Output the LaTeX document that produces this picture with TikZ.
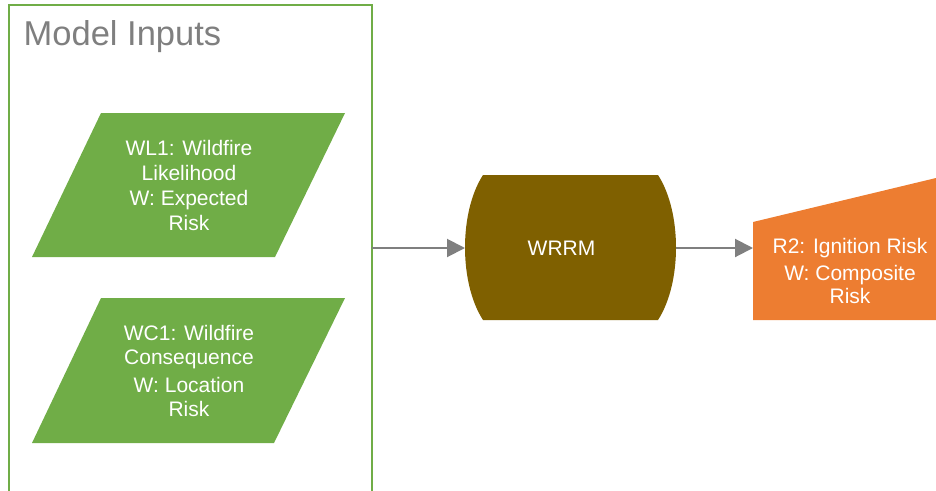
\documentclass[tikz,border=0pt]{standalone}
\usepackage{fontspec}
\setmainfont{Liberation Sans}
\usetikzlibrary{arrows.meta}
\definecolor{grn}{HTML}{70AD47}
\definecolor{goldbrown}{HTML}{7F6000}
\definecolor{org}{HTML}{ED7D31}
\definecolor{gry}{HTML}{7F7F7F}
\begin{document}
\begin{tikzpicture}[x=1pt,y=-1pt,
  lbl/.style={text=white, align=center, font=\fontsize{21}{25}\selectfont, inner sep=0pt},
  conn/.style={draw=gry, line width=2pt, -{Triangle[length=18pt,width=18pt]}},
  frame/.style={draw=grn, line width=2pt},
  inshape/.style={fill=grn},
  title/.style={text=gry, font=\fontsize{34.5}{40}\selectfont, inner sep=0pt, anchor=base west}]
\useasboundingbox (0,0) rectangle (936,490);
% container
\draw[frame] (8.5,495) -- (8.5,5) -- (371.5,5) -- (371.5,495);
\node[title] (ttl) at (23.5,45.5) {Model Inputs};
% input parallelograms
\fill[inshape] (101,113) -- (345,113) -- (275,257) -- (32,257) -- cycle;
\node[lbl] (wl1) at (189,185.5) {WL1: Wildfire\\Likelihood\\W: Expected\\Risk};
\fill[inshape] (101,298) -- (345,298) -- (274,443) -- (32,443) -- cycle;
\node[lbl, font=\fontsize{21}{24}\selectfont] (wc1) at (189,370.5) {WC1: Wildfire\\Consequence\\[4pt]W: Location\\Risk};
% WRRM
\fill[goldbrown] (483,175) -- (658,175) .. controls (682,212) and (682,283) .. (658,320)
  -- (483,320) .. controls (459,283) and (459,212) .. (483,175) -- cycle;
\node[lbl] (wrrm) at (561.5,248) {WRRM};
% output
\fill[org] (753,222) -- (936,178) -- (936,320) -- (753,320) -- cycle;
\node[lbl, font=\fontsize{21}{23}\selectfont] (r2) at (850,271) {R2: Ignition Risk\\[4pt]W: Composite\\Risk};
% connectors
\coordinate (inR) at (371.5,248);
\coordinate (wrrmW) at (465,248);
\coordinate (wrrmE) at (676,248);
\coordinate (outW) at (753,248);
\draw[conn] (inR) -- (wrrmW);
\draw[conn] (wrrmE) -- (outW);
\end{tikzpicture}
\end{document}
